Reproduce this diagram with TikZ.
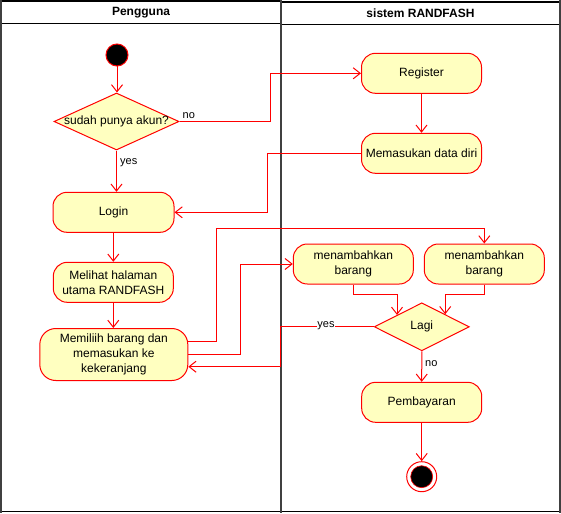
\documentclass[tikz,border=0pt]{standalone}
\usepackage{fontspec}
\setmainfont{Liberation Sans}
\usetikzlibrary{arrows.meta,shapes.geometric,calc}
\definecolor{yel}{HTML}{FFFFC0}
\definecolor{lane}{HTML}{404040}
\begin{document}
\begin{tikzpicture}[x=1pt,y=-1pt,
  act/.style={draw=red, fill=yel, rounded corners=14pt, line width=1pt,
    minimum width=120pt, minimum height=40pt, inner sep=0pt, align=center,
    font=\fontsize{12}{15}\selectfont},
  dec/.style={diamond, draw=red, fill=yel, line width=1pt, inner sep=0pt},
  dectext/.style={font=\fontsize{12}{14}\selectfont, inner sep=0pt},
  arr/.style={draw=red, line width=1pt, -{Straight Barb[length=7pt,width=11pt]}},
  lbl/.style={font=\fontsize{11}{13}\selectfont, inner sep=1pt},
  hdr/.style={font=\fontsize{12}{14}\selectfont\bfseries, inner sep=0pt}]
\useasboundingbox (0,0) rectangle (561,513);

% swimlanes
\draw[black, line width=1.5pt] (1,0.8) -- (281,0.8);
\draw[black, line width=1.5pt] (281,1.8) -- (560,1.8);
\draw[black, line width=1.3pt] (1,23.3) -- (281,23.3);
\draw[black, line width=1.3pt] (281,24.3) -- (560,24.3);
\draw[black, line width=1.5pt] (1,511.7) -- (560,511.7);
\draw[lane, line width=2pt] (1,0) -- (1,512.5);
\draw[lane, line width=2pt] (281,0) -- (281,512.5);
\draw[lane, line width=2pt] (560,0) -- (560,512.5);
\node[hdr] (h1) at (141,12.3) {Pengguna};
\node[hdr] (h2) at (420.5,13.3) {sistem RANDFASH};

% nodes
\node[circle, fill=black, draw=red, line width=1pt, minimum size=22pt, inner sep=0pt] (start) at (117,55) {};
\node[dec, minimum width=125pt, minimum height=57pt] (dia) at (116.5,121.5) {};
\node[dectext] (diat) at (dia.center) {sudah punya akun?};
\node[act, minimum width=121pt] (login) at (113.5,212.3) {Login};
\node[act] (lihat) at (113.3,282.3) {Melihat halaman\\utama RANDFASH};
\node[act, minimum width=148pt, minimum height=52pt, rounded corners=16pt] (pilih) at (113.8,354.5) {Memiliih barang dan\\memasukan ke\\kekeranjang};
\node[act] (reg) at (421.5,73.3) {Register};
\node[act] (mem) at (421.5,153.3) {Memasukan data diri};
\node[act] (tb1) at (353.3,264) {menambahkan\\barang};
\node[act] (tb2) at (484.3,264) {menambahkan\\barang};
\node[dec, minimum width=95pt, minimum height=48pt] (lagi) at (421.8,326.8) {};
\node[dectext] (lagit) at (lagi.center) {Lagi};
\node[act] (bayar) at (421.7,402.3) {Pembayaran};
\node[circle, draw=red, fill=white, line width=1pt, minimum size=30pt, inner sep=0pt] (end) at (421.7,476.7) {};
\filldraw[fill=black, draw=red, line width=0.6pt] (end.center) circle (11);

% helper coordinates
\coordinate (cno) at (270,0);
\coordinate (cmem) at (267.3,0);
\coordinate (cup) at (216.7,228.3);
\coordinate (cmid) at (240,264);
\coordinate (cyes) at (280.7,0);
\coordinate (p1) at ($(lagi.west)!0.484!(lagi.north)$);
\coordinate (p2) at ($(lagi.north)!0.488!(lagi.east)$);

% connectors
\draw[arr] (start) -- (dia.north -| start);
\draw[arr] (dia.east) -- (dia.east -| cno) |- (reg.west);
\node[lbl, anchor=south west] (lno) at ([xshift=2pt,yshift=2pt]dia.east) {no};
\draw[arr] (dia.south) -- (dia.south |- login.north);
\node[lbl, anchor=west] (lyes) at (119,162.5) {yes};
\draw[arr] (reg.south) -- (mem.north);
\draw[arr] (mem.west) -- (mem.west -| cmem) |- (login.east);
\draw[arr] (login.south -| lihat.north) -- (lihat.north);
\draw[arr] (lihat.south) -- (pilih.north -| lihat.south);
\draw[arr] ([yshift=12.8pt]pilih.east) -| (cup) -| (tb2.north);
\draw[arr] (pilih.east) -| (cmid) -- (tb1.west);
\draw[arr] (tb1.south) -- ++(0,10) -| (p1);
\draw[arr] (tb2.south) -- ++(0,10) -| (p2);
\draw[arr] (lagi.west) -- (lagi.west -| cyes) |- ([yshift=-12.2pt]pilih.east);
\node[lbl, fill=white, inner sep=0.5pt] (lyes2) at (326,325.5) {yes};
\draw[arr] (lagi.south) -- (bayar.north);
\node[lbl, anchor=west] (lno2) at (424,363.3) {no};
\draw[arr] (bayar.south) -- (end.north);
\end{tikzpicture}
\end{document}
